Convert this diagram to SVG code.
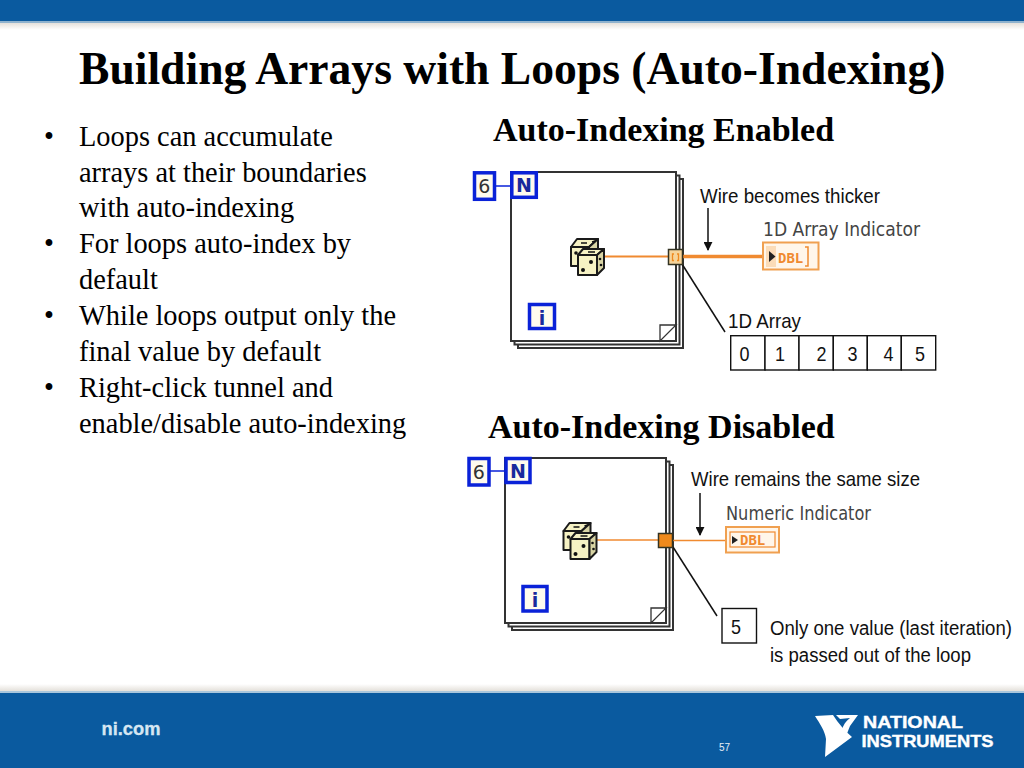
<svg xmlns="http://www.w3.org/2000/svg" width="1024" height="768" viewBox="0 0 1024 768">
<style>
text{font-family:"Liberation Sans",Arial,sans-serif}
.serif{font-family:"Liberation Serif","Times New Roman",serif;fill:#000}
.h{font-size:34px;font-weight:bold}
.b{font-size:28.4px}
.s{font-size:21px;fill:#111}
.lab{font-size:19px;fill:#444;font-family:"DejaVu Sans",sans-serif}
.cell{fill:#fff;stroke:#111;stroke-width:1.4}
.page{fill:#fff;stroke:#333;stroke-width:2}
.fold{fill:#fff;stroke:#333;stroke-width:1.300}
.blue{fill:#fffbee;stroke:#0a22d8;stroke-width:3.500}
.glyph{font-family:"DejaVu Sans",sans-serif;text-anchor:middle}
.sym{font-size:19px;font-weight:bold;fill:#1a2a9c}
.num{font-size:19px;fill:#333}
.die{fill:#f6f2c4;stroke:#1a1a1a;stroke-width:2;stroke-linejoin:round}
.side{fill:#d8d4a4;stroke:#1a1a1a;stroke-width:2;stroke-linejoin:round}
.ln{stroke:#111;stroke-width:1.500;fill:none}
.dbl{font-size:14px;font-weight:bold;fill:#f08a30;font-family:"DejaVu Sans Mono",monospace}
</style>
<defs>
<linearGradient id="shade" x1="0" y1="0" x2="0" y2="1"><stop offset="0" stop-color="#e4e0da"/><stop offset="1" stop-color="#fff"/></linearGradient>
<marker id="ahb" viewBox="0 0 10 10" refX="9" refY="5" markerWidth="9" markerHeight="9" markerUnits="userSpaceOnUse" orient="auto"><path d="M0 0L10 5L0 10Z" fill="#111"/></marker>
<g id="dice">
<path class="die" d="M1 9L7 1H28L19 9Z"/>
<rect class="die" x="1" y="9" width="18" height="19"/>
<path class="side" d="M19 9L28 1V20L19 28Z"/>
<path class="ln" d="M11 5H17M22 4L25 3" stroke-width="2"/>
<circle cx="6" cy="15" r="1.800" fill="#111"/>
<path class="die" d="M8 17L13 11H34L27 17Z"/>
<rect class="die" x="8" y="17" width="19" height="20"/>
<path class="side" d="M27 17L34 11V30L27 37Z"/>
<path class="ln" d="M18 14H25"/>
<circle cx="13" cy="32" r="2" fill="#111"/><circle cx="21" cy="24" r="2" fill="#111"/><circle cx="30" cy="21" r="1.300" fill="#111"/><circle cx="31" cy="27" r="1.300" fill="#111"/>
</g>
</defs>

<rect id="bg" width="1024" height="768" fill="#fff"/>
<g id="header-band"><rect width="1024" height="21" fill="#0a5a9f"/><rect y="21" width="1024" height="2" fill="#8fb2cd"/><rect y="23" width="1024" height="7" fill="url(#shade)"/></g>
<g id="footer-band"><rect y="684" width="1024" height="7" fill="url(#shade)" transform="rotate(180 512 687.500)"/><rect y="691" width="1024" height="3" fill="#a9c6dc"/><rect y="693" width="1024" height="75" fill="#0a5a9f"/></g>

<text id="title" class="serif" x="79" y="84" font-size="45.600" font-weight="bold">Building Arrays with Loops (Auto-Indexing)</text>

<g id="bullets">
<text class="serif b" x="44" y="146">•</text><text class="serif b" x="79" y="146">Loops can accumulate</text>
<text class="serif b" x="79" y="182">arrays at their boundaries</text>
<text class="serif b" x="79" y="217">with auto-indexing</text>
<text class="serif b" x="44" y="253">•</text><text class="serif b" x="79" y="253">For loops auto-index by</text>
<text class="serif b" x="79" y="289">default</text>
<text class="serif b" x="44" y="325">•</text><text class="serif b" x="79" y="325">While loops output only the</text>
<text class="serif b" x="79" y="361">final value by default</text>
<text class="serif b" x="44" y="397">•</text><text class="serif b" x="79" y="397">Right-click tunnel and</text>
<text class="serif b" x="79" y="433">enable/disable auto-indexing</text>
</g>

<text id="heading-enabled" class="serif h" x="493" y="141">Auto-Indexing Enabled</text>
<text id="heading-disabled" class="serif h" x="488" y="438">Auto-Indexing Disabled</text>

<g id="pages-enabled">
<rect class="page" x="518" y="179" width="165" height="169"/>
<rect class="page" x="514.500" y="175.500" width="165" height="169"/>
<rect class="page" x="511" y="172" width="165" height="169"/>
<path class="fold" d="M660 341V325H676L660 341Z"/>
</g>
<g id="pages-disabled">
<rect class="page" x="512" y="465" width="161" height="165"/>
<rect class="page" x="508.500" y="461.500" width="161" height="165"/>
<rect class="page" x="505" y="458" width="161" height="165"/>
<path class="fold" d="M651 623V608H666L651 623Z"/>
</g>

<g id="connectors">
<path d="M495 186H512" stroke="#0a22d8" stroke-width="1.500" fill="none"/>
<path d="M603 256.500H668" stroke="#f08a30" stroke-width="1.800" fill="none"/>
<path d="M683 256.500H764" stroke="#f08a30" stroke-width="3.500" fill="none"/>
<path d="M708 208V250" class="ln" marker-end="url(#ahb)"/>
<path d="M682 264L725 332" class="ln"/>
<path d="M490 471H506" stroke="#0a22d8" stroke-width="1.500" fill="none"/>
<path d="M595 540H660" stroke="#f08a30" stroke-width="1.500" fill="none"/>
<path d="M672 540.500H728" stroke="#f08a30" stroke-width="1.500" fill="none"/>
<path d="M700 493V535" class="ln" marker-end="url(#ahb)"/>
<path d="M673 547L717 616" class="ln"/>
</g>

<g id="loop-enabled">
<g id="count-enabled"><rect class="blue" x="474.500" y="172.800" width="20" height="26.500"/><text class="glyph num" x="484.300" y="193">6</text></g>
<g id="n-enabled"><rect class="blue" x="511.800" y="172.800" width="24.500" height="24.500"/><text class="glyph sym" x="524" y="192">N</text></g>
<g id="i-enabled"><rect class="blue" x="529.500" y="304.500" width="25" height="24"/><text class="glyph sym" x="542" y="325">i</text></g>
<use id="dice-enabled" href="#dice" x="570" y="238"/>
<g id="tunnel-enabled"><rect x="668.500" y="249.500" width="14" height="15" fill="#f6d49a" stroke="#332" stroke-width="1.500"/><path d="M674 254H672.500V260.500H674M677 254H678.500V260.500H677" stroke="#ee8a20" stroke-width="1.300" fill="none"/></g>
</g>

<g id="indicator-enabled">
<text class="lab" x="763" y="236" textLength="157" lengthAdjust="spacingAndGlyphs">1D Array Indicator</text>
<rect x="763" y="242.500" width="55.500" height="27" fill="#fff6ea" stroke="#f0a050" stroke-width="2"/>
<rect x="766" y="246" width="10" height="21" fill="#fbdcb8"/>
<path d="M769 251L775.500 256.500L769 262Z" fill="#222"/>
<text class="dbl" x="778" y="263">DBL</text>
<path d="M805 247H808V266H805" stroke="#f08a30" stroke-width="1.500" fill="none"/>
</g>

<text id="note-thicker" class="s" x="700" y="203" textLength="180" lengthAdjust="spacingAndGlyphs">Wire becomes thicker</text>

<g id="array">
<text class="s" x="728" y="328" textLength="73" lengthAdjust="spacingAndGlyphs">1D Array</text>
<rect class="cell" x="730.700" y="335.700" width="34.300" height="34.300"/><rect class="cell" x="765" y="335.700" width="34" height="34.300"/><rect class="cell" x="799" y="335.700" width="34.300" height="34.300"/><rect class="cell" x="833.300" y="335.700" width="34" height="34.300"/><rect class="cell" x="867.300" y="335.700" width="34" height="34.300"/><rect class="cell" x="901.300" y="335.700" width="34.400" height="34.300"/>
<text class="s" x="739.500" y="361" textLength="10" lengthAdjust="spacingAndGlyphs">0</text><text class="s" x="775" y="361" textLength="10" lengthAdjust="spacingAndGlyphs">1</text><text class="s" x="816.500" y="361" textLength="10" lengthAdjust="spacingAndGlyphs">2</text><text class="s" x="847.500" y="361" textLength="10" lengthAdjust="spacingAndGlyphs">3</text><text class="s" x="883.500" y="361" textLength="10" lengthAdjust="spacingAndGlyphs">4</text><text class="s" x="915" y="361" textLength="10" lengthAdjust="spacingAndGlyphs">5</text>
</g>

<g id="loop-disabled">
<g id="count-disabled"><rect class="blue" x="469" y="458.500" width="20" height="26.500"/><text class="glyph num" x="478.700" y="479">6</text></g>
<g id="n-disabled"><rect class="blue" x="506" y="458.500" width="24" height="24"/><text class="glyph sym" x="518" y="478">N</text></g>
<g id="i-disabled"><rect class="blue" x="523" y="586.500" width="24" height="24.500"/><text class="glyph sym" x="535" y="607">i</text></g>
<use id="dice-disabled" href="#dice" x="562.500" y="522"/>
<rect id="tunnel-disabled" x="658.500" y="533.500" width="14" height="14" fill="#f08a1c" stroke="#332" stroke-width="1.500"/>
</g>

<g id="indicator-disabled">
<text class="lab" x="726" y="520" textLength="145" lengthAdjust="spacingAndGlyphs">Numeric Indicator</text>
<rect x="726" y="527" width="53" height="25.500" fill="#fff6ea" stroke="#f0a050" stroke-width="2"/>
<rect x="730" y="532" width="45" height="15" fill="#fff6ea" stroke="#f08a30" stroke-width="1.200"/>
<path d="M732 536L738 540L732 544Z" fill="#222"/>
<text class="dbl" x="740" y="545">DBL</text>
</g>

<text id="note-same" class="s" x="691" y="486" textLength="229" lengthAdjust="spacingAndGlyphs">Wire remains the same size</text>

<g id="value">
<rect class="cell" x="722" y="608.500" width="34.500" height="34.500"/>
<text class="s" x="731" y="634" textLength="10" lengthAdjust="spacingAndGlyphs">5</text>
</g>
<text id="note-one" x="770" y="635" font-size="19.500" fill="#111" textLength="242" lengthAdjust="spacingAndGlyphs">Only one value (last iteration)</text>
<text id="note-two" x="770" y="662" font-size="19.500" fill="#111" textLength="201" lengthAdjust="spacingAndGlyphs">is passed out of the loop</text>

<text id="ni-com" x="101.500" y="735" font-size="18" font-weight="bold" fill="#d6e6f2" stroke="#d6e6f2" stroke-width="0.300" textLength="59" lengthAdjust="spacingAndGlyphs">ni.com</text>
<text id="page-number" x="719" y="751" font-size="10" fill="#e6eef6">57</text>

<g id="logo">
<path d="M815 716L833 715C838 723 845 731 852 737L825 757L826 739C825 731 820 724 815 716Z" fill="#fff"/>
<path d="M836 715H858L850 726L846 736L842 730C843 725 846 721 850 718L840 719Z" fill="#fff"/>
<text x="863" y="728" font-size="17" font-weight="bold" fill="#fff" stroke="#fff" stroke-width="0.400" textLength="100" lengthAdjust="spacingAndGlyphs">NATIONAL</text>
<text x="861.500" y="747" font-size="17" font-weight="bold" fill="#fff" stroke="#fff" stroke-width="0.400" textLength="132" lengthAdjust="spacingAndGlyphs">INSTRUMENTS</text>
</g>
</svg>
